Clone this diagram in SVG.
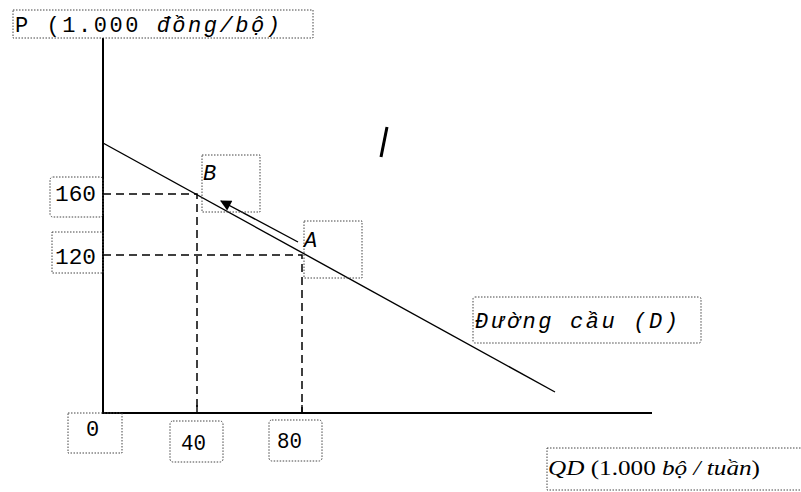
<svg xmlns="http://www.w3.org/2000/svg" width="801" height="492" viewBox="0 0 801 492">
<style>
.box{fill:none;stroke:#444;stroke-width:1;stroke-dasharray:1.5 1.5}
.t{font-family:"Liberation Mono","DejaVu Sans Mono",monospace;font-size:22px;fill:#000}
.s{font-family:"Liberation Serif","DejaVu Serif",serif;font-size:20px;fill:#000}
.ax{stroke:#000;stroke-width:2;fill:none}
.dash{stroke:#000;stroke-width:1.5;stroke-dasharray:8 5;fill:none}
</style>
<defs>
<marker id="ah" viewBox="0 0 10 10" refX="9" refY="5" markerWidth="12" markerHeight="11" orient="auto" markerUnits="userSpaceOnUse">
<path d="M0,0 L10,5 L0,10 z" fill="#000"/>
</marker>
</defs>
<rect width="801" height="492" fill="#fff"/>
<g id="connectors">
<line class="ax" x1="103" y1="38" x2="103" y2="414"/>
<line class="ax" x1="102" y1="413" x2="652" y2="413"/>
<line x1="103" y1="143" x2="555" y2="392" stroke="#000" stroke-width="1.4"/>
<path class="dash" d="M103,194 H197 V413"/>
<path class="dash" d="M103,255 H302 V413"/>
<line x1="298" y1="242" x2="221" y2="201" stroke="#000" stroke-width="1.4" marker-end="url(#ah)"/>
<line x1="197" y1="405" x2="197" y2="413" stroke="#000" stroke-width="1.4"/>
<line x1="302" y1="405" x2="302" y2="413" stroke="#000" stroke-width="1.4"/>
<line x1="381" y1="157" x2="387" y2="127" stroke="#000" stroke-width="3"/>
</g>
<g id="title-p"><rect class="box" x="13" y="10" width="300" height="28"/><text class="t" x="15" y="32" textLength="265" lengthAdjust="spacing">P (1.000 <tspan font-style="italic">đồng/bộ)</tspan></text></g>
<g id="label-160"><rect class="box" x="50" y="177" width="53" height="40" rx="3"/><text class="t" x="55" y="201" textLength="41" lengthAdjust="spacingAndGlyphs">160</text></g>
<g id="label-120"><rect class="box" x="52" y="232" width="51" height="41"/><text class="t" x="55" y="264" textLength="41" lengthAdjust="spacingAndGlyphs">120</text></g>
<g id="point-b"><rect class="box" x="202" y="155" width="58" height="57"/><text class="t" x="203" y="180" font-style="italic">B</text></g>
<g id="point-a"><rect class="box" x="304" y="221" width="58" height="57"/><text class="t" x="304" y="247" font-style="italic">A</text></g>
<g id="label-d"><rect class="box" x="473" y="297" width="228" height="46" rx="2"/><text class="t" x="475" y="328" font-style="italic" textLength="203" lengthAdjust="spacing">Đường cầu (D)</text></g>
<g id="label-0"><rect class="box" x="68" y="413" width="54" height="40"/><text class="t" x="86" y="436">0</text></g>
<g id="label-40"><rect class="box" x="170" y="421" width="53" height="41" rx="3"/><text class="t" x="181" y="450" textLength="25" lengthAdjust="spacingAndGlyphs">40</text></g>
<g id="label-80"><rect class="box" x="269" y="420" width="53" height="41" rx="3"/><text class="t" x="277" y="448" textLength="25" lengthAdjust="spacingAndGlyphs">80</text></g>
<g id="title-q"><rect class="box" x="547" y="448" width="260" height="42"/><text class="s" x="548" y="475" textLength="212" lengthAdjust="spacingAndGlyphs"><tspan font-style="italic">QD</tspan> (1.000 <tspan font-style="italic">bộ / tuần</tspan>)</text></g>
</svg>
